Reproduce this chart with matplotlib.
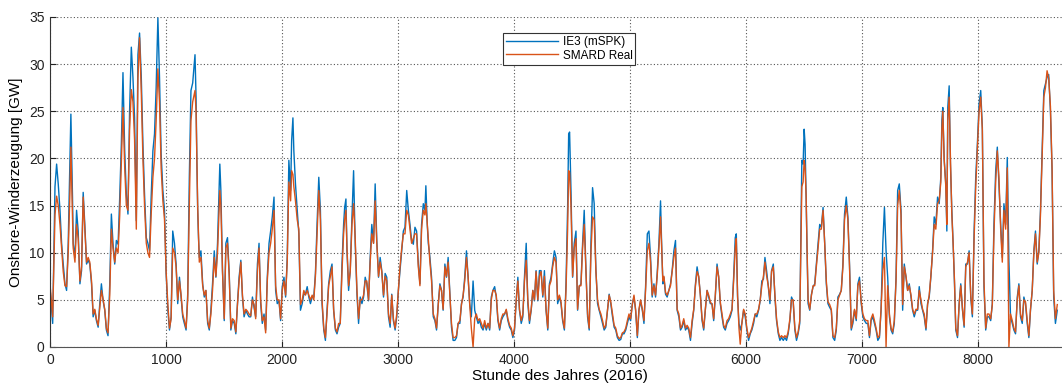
import matplotlib
matplotlib.use("Agg")
import matplotlib.pyplot as plt
from matplotlib import font_manager

stunde = [0, 23, 43, 57, 71, 86, 100, 114, 129, 143, 157, 172, 180, 194, 200, 215, 229, 243, 258, 272, 286, 300, 315, 329, 343, 358, 372, 386, 400, 415, 429, 443, 458, 472, 486, 500, 515, 529, 543, 558, 572, 587, 601, 615, 629, 644, 658, 672, 686, 701, 715, 729, 744, 758, 772, 787, 801, 815, 830, 844, 858, 872, 887, 901, 915, 930, 944, 958, 973, 987, 1001, 1016, 1030, 1044, 1058, 1073, 1087, 1101, 1116, 1130, 1144, 1158, 1173, 1187, 1201,
          1215, 1230, 1250, 1259, 1266, 1273, 1280, 1287, 1301, 1316, 1330, 1344, 1359, 1373, 1387, 1401, 1416, 1430, 1444, 1464, 1473, 1487, 1502, 1516, 1530, 1545, 1559, 1573, 1588, 1602, 1616, 1630, 1645, 1659, 1673, 1688, 1702, 1716, 1730, 1745, 1759, 1773, 1788, 1802, 1816, 1830, 1845, 1859, 1873, 1888, 1902, 1916, 1931, 1945, 1959, 1974, 1988, 2002, 2017, 2031, 2045, 2059, 2074, 2083, 2094, 2102, 2116, 2131, 2145, 2159, 2174, 2188, 2202, 2217, 2231, 2245, 2260, 2274, 2288, 2302, 2317, 2331, 2345, 2360, 2374, 2388,
          2402, 2417, 2431, 2445, 2460, 2474, 2488, 2502, 2517, 2531, 2540, 2551, 2560, 2574, 2588, 2603, 2617, 2631, 2646, 2660, 2674, 2689, 2703, 2717, 2731, 2746, 2760, 2774, 2789, 2803, 2817, 2832, 2846, 2860, 2875, 2889, 2903, 2918, 2932, 2946, 2960, 2975, 2989, 3003, 3017, 3032, 3046, 3060, 3075, 3089, 3103, 3117, 3132, 3146, 3160, 3175, 3189, 3203, 3218, 3232, 3240, 3252, 3261, 3275, 3289, 3304, 3318, 3332, 3347, 3361, 3375, 3389, 3404, 3418, 3432, 3447, 3461, 3475, 3490, 3504, 3518, 3533, 3547, 3561, 3575, 3590, 3604, 3618, 3632,
          3647, 3661, 3675, 3690, 3704, 3718, 3733, 3747, 3761, 3776, 3790, 3804, 3818, 3833, 3847, 3861, 3876, 3890, 3904, 3919, 3933, 3947, 3962, 3976, 3990, 4004, 4019, 4033, 4047, 4062, 4076, 4090, 4105, 4119, 4133, 4148, 4162, 4176, 4190, 4205, 4219, 4233, 4248, 4262, 4276, 4291, 4305, 4319, 4333, 4348, 4362, 4376, 4391, 4405, 4419, 4434, 4448, 4462, 4471, 4479, 4491, 4505, 4519, 4534, 4548, 4562, 4577, 4591, 4605, 4620, 4634, 4648, 4663, 4677, 4691, 4706, 4720, 4734, 4749, 4763, 4777, 4791, 4806, 4820, 4834, 4849, 4863, 4877,
          4891, 4906, 4920, 4934, 4948, 4963, 4977, 4991, 5005, 5020, 5034, 5048, 5063, 5077, 5091, 5106, 5120, 5134, 5149, 5163, 5177, 5191, 5206, 5220, 5234, 5249, 5263, 5271, 5283, 5292, 5306, 5320, 5335, 5349, 5363, 5378, 5392, 5406, 5421, 5435, 5449, 5463, 5478, 5492, 5506, 5521, 5535, 5549, 5564, 5578, 5592, 5606, 5621, 5635, 5649, 5664, 5678, 5692, 5707, 5721, 5735, 5750, 5764, 5778, 5793, 5807, 5821, 5836, 5850, 5864, 5879, 5893, 5907, 5916, 5927, 5939, 5950, 5964, 5979, 5993, 6007, 6022, 6036, 6050, 6065, 6079, 6093, 6108, 6122,
          6136, 6150, 6163, 6178, 6192, 6206, 6220, 6235, 6249, 6263, 6278, 6292, 6306, 6321, 6335, 6349, 6363, 6378, 6392, 6406, 6421, 6435, 6449, 6463, 6472, 6481, 6492, 6501, 6509, 6518, 6526, 6535, 6549, 6564, 6578, 6592, 6606, 6621, 6635, 6649, 6664, 6678, 6692, 6706, 6721, 6735, 6749, 6764, 6778, 6792, 6807, 6821, 6835, 6849, 6864, 6878, 6892, 6907, 6921, 6935, 6950, 6964, 6978, 6993, 7007, 7021, 7036, 7050, 7064, 7078, 7093, 7107, 7121, 7136, 7150, 7164, 7179, 7193, 7207, 7221, 7236, 7250, 7264, 7278, 7293, 7307, 7321, 7336, 7350, 7364,
          7379, 7393, 7407, 7422, 7436, 7450, 7465, 7479, 7493, 7508, 7522, 7536, 7551, 7565, 7579, 7593, 7608, 7622, 7636, 7651, 7665, 7679, 7688, 7696, 7708, 7722, 7731, 7739, 7751, 7762, 7774, 7785, 7797, 7808, 7823, 7837, 7851, 7866, 7880, 7894, 7909, 7923, 7937, 7951, 7966, 7980, 7994, 8009, 8023, 8037, 8051, 8066, 8080, 8094, 8109, 8123, 8137, 8152, 8166, 8180, 8195, 8209, 8223, 8238, 8252, 8266, 8280, 8295, 8309, 8323, 8338, 8352, 8366, 8381, 8395, 8409, 8424, 8438, 8452, 8467, 8481, 8495, 8510, 8524, 8538, 8552, 8567, 8581, 8595, 8609, 8624, 8638, 8652, 8667, 8683]

ie3_mspk = [6.3, 2.5, 17.0, 19.4, 17.3, 14.5, 11.0, 8.8, 6.7, 6.0, 11.0, 19.8, 24.7, 15.9, 11.0, 9.5, 14.5, 12.3, 6.7, 8.1, 16.4, 13.0, 8.8, 9.2, 8.8, 6.7, 3.2, 3.9, 2.8, 2.1, 4.6, 6.7, 4.9, 3.9, 1.8, 1.2, 6.7, 14.1, 11.0, 8.8, 11.3, 10.9, 15.9, 21.5, 29.1, 20.8, 16.2, 14.1, 25.0, 31.8, 28.6, 24.3, 13.4, 31.0, 33.3, 28.6, 21.5, 16.2, 11.6, 11.0, 10.2, 15.9, 20.8, 22.6, 27.5, 34.9, 28.6, 20.5, 16.6, 14.5, 7.8, 3.9, 1.8, 3.2, 12.3, 11.0, 8.8, 4.6, 7.4, 5.3, 3.2, 2.5, 1.8, 5.6, 18.0,
            27.2, 28.0, 31.0, 26.5, 19.8, 14.5, 11.6, 9.5, 10.2, 6.7, 5.3, 6.0, 2.5, 1.8, 3.9, 6.7, 10.2, 7.4, 11.0, 19.4, 16.6, 8.1, 2.8, 11.0, 11.6, 7.8, 1.8, 2.8, 2.5, 1.4, 4.6, 7.4, 9.2, 5.3, 3.2, 3.9, 3.5, 3.2, 3.2, 5.3, 4.2, 3.2, 8.8, 11.0, 4.6, 2.5, 3.5, 1.8, 7.4, 11.0, 12.3, 13.8, 15.9, 6.0, 4.6, 4.9, 2.8, 6.4, 7.4, 5.3, 9.5, 19.8, 16.6, 21.9, 24.3, 20.8, 17.3, 14.5, 12.0, 3.9, 4.6, 5.6, 5.6, 6.4, 5.3, 4.6, 5.3, 5.3, 7.8, 13.0, 18.0, 14.5, 4.6, 1.8, 0.7, 3.9,
            6.7, 8.1, 8.8, 3.9, 1.8, 1.4, 2.1, 2.5, 8.8, 13.0, 14.8, 15.7, 10.2, 6.0, 8.1, 13.8, 18.7, 11.0, 5.6, 2.5, 5.3, 4.6, 5.3, 7.4, 6.7, 4.9, 9.5, 13.0, 11.0, 17.3, 11.3, 7.4, 9.5, 8.1, 5.3, 7.8, 7.4, 3.2, 2.1, 5.6, 2.8, 1.8, 3.2, 6.0, 8.1, 10.2, 12.3, 12.7, 16.6, 14.5, 13.0, 11.3, 10.9, 12.7, 12.3, 8.8, 6.7, 13.0, 15.2, 14.5, 17.1, 13.0, 11.0, 9.5, 7.4, 3.2, 2.8, 1.8, 4.6, 6.7, 6.0, 3.9, 8.8, 7.4, 9.5, 5.6, 2.1, 0.7, 0.7, 1.0, 2.5, 2.5, 4.6, 5.3, 7.4, 10.2, 7.4, 4.6, 3.2,
            7.0, 3.9, 3.2, 2.5, 2.8, 2.1, 1.8, 2.5, 1.8, 2.5, 1.8, 5.3, 6.0, 6.4, 5.3, 2.8, 1.8, 2.8, 3.2, 3.5, 3.9, 2.8, 2.1, 1.8, 1.0, 1.8, 4.9, 7.4, 3.9, 2.5, 3.2, 7.4, 11.0, 4.6, 2.5, 3.9, 6.0, 4.9, 8.1, 4.9, 8.1, 8.1, 5.3, 8.1, 3.9, 1.8, 6.7, 7.4, 8.8, 10.2, 9.5, 4.6, 5.3, 4.6, 2.8, 1.8, 6.7, 14.8, 22.6, 22.8, 16.6, 7.4, 11.0, 12.3, 3.9, 6.4, 6.7, 11.0, 14.5, 8.1, 3.2, 1.8, 11.0, 16.9, 15.2, 8.1, 4.6, 3.9, 3.2, 2.5, 1.8, 2.1, 3.9, 5.6, 4.6, 3.2, 2.1, 1.8,
            1.0, 0.7, 0.8, 1.4, 1.4, 1.8, 2.5, 3.2, 2.8, 4.6, 5.3, 3.9, 1.0, 3.9, 4.9, 3.9, 2.5, 6.4, 12.0, 12.3, 9.5, 5.3, 6.7, 5.3, 7.8, 11.0, 15.5, 11.6, 6.7, 7.4, 5.6, 5.3, 6.0, 6.7, 8.1, 10.2, 11.3, 3.9, 3.2, 1.8, 2.1, 2.8, 1.8, 2.1, 1.8, 0.7, 2.5, 3.9, 6.7, 8.5, 7.4, 5.6, 2.8, 1.8, 3.9, 6.0, 5.3, 4.6, 4.6, 2.8, 5.3, 8.8, 7.4, 4.6, 3.2, 2.1, 1.8, 2.5, 2.8, 3.2, 3.9, 7.4, 11.6, 12.0, 5.3, 2.5, 1.8, 2.5, 3.9, 3.2, 1.8, 0.7, 1.4, 1.8, 2.5, 3.5, 3.2, 3.9, 4.9,
            7.0, 7.2, 9.5, 8.0, 6.4, 4.6, 8.1, 8.8, 5.3, 2.8, 1.4, 0.7, 1.0, 0.7, 1.0, 0.7, 1.4, 2.8, 5.3, 4.9, 1.8, 0.7, 1.4, 2.5, 11.0, 19.8, 19.4, 23.1, 21.5, 15.9, 10.2, 4.6, 3.9, 5.6, 6.4, 6.7, 8.8, 11.0, 13.0, 12.7, 14.8, 11.0, 6.7, 4.6, 4.2, 3.9, 1.0, 0.7, 1.8, 5.3, 5.6, 6.0, 8.8, 14.1, 15.9, 13.8, 8.8, 1.8, 2.5, 3.9, 2.8, 6.7, 7.4, 4.6, 3.2, 2.8, 2.5, 2.5, 1.0, 2.8, 3.2, 2.5, 1.8, 0.7, 1.0, 3.9, 11.0, 14.8, 10.2, 7.4, 3.2, 1.8, 1.4, 2.5, 7.4, 16.6, 17.3, 14.5, 3.9, 8.8,
            7.4, 6.0, 6.7, 5.3, 3.9, 3.2, 3.9, 3.9, 6.4, 4.6, 3.9, 3.2, 1.8, 4.6, 5.3, 7.4, 10.2, 13.8, 13.0, 15.9, 15.2, 18.0, 24.0, 25.4, 19.8, 17.3, 12.3, 25.4, 27.7, 19.4, 14.5, 11.0, 6.7, 1.8, 1.0, 4.6, 6.7, 3.9, 2.1, 8.8, 8.8, 10.2, 5.3, 3.2, 12.3, 18.0, 21.5, 25.8, 27.2, 23.3, 6.4, 1.8, 3.2, 3.2, 2.8, 4.6, 13.0, 18.7, 21.2, 17.3, 13.0, 9.5, 15.2, 13.0, 20.1, 9.2, 3.2, 2.5, 1.8, 1.4, 5.3, 6.7, 3.2, 2.5, 5.3, 4.6, 2.5, 1.0, 3.9, 6.0, 10.2, 12.3, 8.8, 10.2, 14.5, 20.8, 27.2, 27.9, 28.6, 28.9, 25.0, 18.7, 5.3, 2.5, 3.9]

smard_real = [6.7, 3.2, 14.0, 16.0, 15.0, 13.0, 10.5, 8.0, 6.5, 6.4, 10.0, 16.5, 21.2, 14.0, 10.5, 9.0, 13.0, 11.5, 7.0, 8.5, 15.9, 12.5, 9.0, 9.5, 9.0, 7.0, 3.5, 4.0, 3.0, 2.3, 4.2, 6.0, 5.0, 4.0, 2.0, 1.5, 5.5, 12.5, 10.5, 9.0, 10.5, 10.0, 14.0, 19.5, 25.4, 19.0, 15.0, 14.5, 23.0, 27.3, 26.0, 22.0, 12.5, 28.5, 32.8, 27.0, 20.0, 15.0, 11.0, 10.0, 9.5, 14.0, 18.0, 20.0, 24.0, 29.5, 26.0, 19.0, 15.5, 13.5, 8.0, 4.5, 2.0, 3.0, 10.5, 10.0, 8.5, 5.0, 7.0, 5.5, 3.5, 2.8, 2.0, 5.0, 15.0,
              24.0, 26.0, 27.2, 25.0, 20.0, 15.0, 12.0, 9.0, 9.5, 6.5, 5.5, 6.0, 2.8, 2.0, 3.5, 6.0, 9.5, 7.5, 10.0, 16.6, 15.0, 8.0, 3.0, 10.5, 11.0, 7.5, 2.0, 3.0, 2.8, 1.6, 4.5, 7.0, 9.0, 5.5, 3.5, 4.0, 3.8, 3.5, 3.3, 5.0, 4.5, 3.0, 8.0, 10.5, 5.0, 2.8, 3.2, 1.5, 7.0, 10.0, 11.0, 12.5, 14.5, 6.5, 5.0, 5.0, 3.0, 6.0, 7.0, 5.5, 9.0, 17.5, 15.5, 18.7, 18.3, 17.0, 15.5, 13.5, 12.5, 4.5, 5.0, 6.0, 5.5, 6.0, 5.5, 5.0, 5.5, 5.0, 7.5, 12.0, 16.6, 13.5, 5.0, 2.0, 1.0, 3.5,
              6.5, 7.5, 8.5, 4.0, 2.0, 1.6, 2.5, 2.5, 8.0, 12.0, 13.5, 14.5, 10.5, 6.5, 8.0, 13.0, 15.2, 11.5, 6.0, 3.0, 5.0, 5.0, 5.5, 7.0, 7.0, 5.0, 9.0, 12.0, 11.0, 15.5, 11.0, 7.5, 9.0, 8.0, 5.5, 7.5, 7.0, 3.5, 2.5, 5.5, 3.0, 2.0, 3.5, 6.0, 8.5, 10.5, 12.0, 12.0, 14.5, 14.0, 12.5, 11.0, 11.5, 12.0, 12.0, 8.5, 6.5, 12.5, 14.5, 14.0, 15.2, 13.0, 11.5, 9.0, 7.0, 3.5, 3.0, 2.0, 4.5, 6.5, 6.0, 4.0, 8.5, 7.5, 9.0, 5.5, 2.5, 1.0, 1.0, 1.2, 2.5, 2.8, 4.5, 5.5, 7.0, 9.5, 7.5, 4.5, 2.0,
              0.0, 3.0, 3.5, 2.8, 3.0, 2.5, 2.0, 2.8, 2.0, 2.5, 2.0, 5.0, 6.0, 6.0, 5.5, 3.0, 2.0, 3.0, 3.5, 3.5, 4.0, 3.0, 2.3, 2.0, 1.2, 2.0, 5.0, 7.0, 4.0, 2.8, 3.5, 7.0, 9.2, 5.0, 2.8, 4.0, 6.0, 5.0, 8.0, 5.0, 7.5, 8.0, 5.5, 7.5, 4.0, 2.0, 6.5, 7.0, 8.5, 9.5, 9.0, 5.0, 5.5, 4.8, 3.0, 2.0, 6.0, 12.5, 18.7, 18.5, 15.0, 7.5, 10.5, 11.5, 4.0, 6.5, 6.5, 10.5, 13.0, 8.0, 3.5, 2.0, 10.0, 13.8, 13.5, 8.0, 5.0, 4.0, 3.5, 2.8, 2.0, 2.3, 4.0, 5.5, 4.8, 3.5, 2.3, 2.0,
              1.2, 0.9, 1.0, 1.5, 1.6, 2.0, 2.8, 3.5, 3.0, 4.5, 5.5, 4.0, 1.2, 4.0, 5.0, 4.0, 2.8, 6.0, 10.2, 11.0, 9.0, 5.5, 6.5, 5.5, 7.5, 10.5, 13.8, 11.0, 7.0, 7.5, 5.8, 5.5, 6.0, 6.5, 8.0, 9.5, 10.5, 4.0, 3.5, 2.0, 2.3, 3.0, 2.0, 2.3, 2.0, 1.0, 2.8, 4.0, 6.5, 8.0, 7.5, 5.5, 3.0, 2.0, 4.0, 6.0, 5.5, 4.8, 4.5, 3.0, 5.5, 8.5, 7.5, 4.8, 3.5, 2.3, 2.0, 2.8, 3.0, 3.5, 4.0, 7.0, 10.5, 11.5, 5.5, 2.0, 0.3, 2.5, 4.0, 3.5, 2.0, 1.0, 1.5, 2.0, 2.8, 3.5, 3.5, 4.0, 5.0,
              6.5, 7.5, 9.0, 7.5, 6.5, 5.0, 8.0, 8.5, 5.5, 3.0, 1.6, 1.0, 1.2, 1.0, 1.2, 1.0, 1.6, 3.0, 5.0, 5.0, 2.0, 1.0, 1.6, 2.8, 10.0, 17.0, 17.5, 19.8, 19.0, 16.0, 10.5, 5.0, 4.0, 5.5, 6.5, 6.5, 8.5, 10.5, 12.5, 12.5, 14.5, 11.0, 7.0, 4.8, 4.5, 4.0, 1.2, 1.0, 2.0, 5.0, 5.5, 6.0, 8.5, 13.5, 15.0, 13.5, 8.5, 2.0, 2.8, 4.0, 3.0, 6.5, 7.0, 4.8, 3.5, 3.0, 2.8, 2.8, 1.2, 3.0, 3.5, 2.8, 2.0, 1.0, 1.2, 4.0, 8.1, 9.5, 0.0, 6.5, 3.5, 2.0, 1.6, 2.8, 7.0, 15.0, 16.6, 14.0, 4.5, 8.5,
              7.5, 6.0, 6.5, 5.5, 4.0, 3.5, 4.0, 4.0, 6.0, 5.0, 4.0, 3.5, 2.0, 4.5, 5.5, 7.5, 10.0, 13.0, 12.5, 15.2, 15.5, 17.5, 23.0, 25.0, 20.0, 17.0, 13.0, 24.0, 26.5, 20.0, 14.0, 11.0, 7.0, 2.0, 1.2, 4.5, 6.5, 4.0, 2.3, 8.5, 9.0, 10.0, 5.5, 3.5, 11.5, 17.0, 21.0, 25.0, 26.5, 23.0, 7.0, 2.0, 3.5, 3.5, 3.0, 4.5, 12.0, 17.5, 20.8, 18.0, 12.5, 9.0, 14.5, 12.5, 19.0, 0.0, 3.5, 2.8, 2.0, 1.6, 5.0, 6.5, 3.5, 2.8, 5.0, 4.8, 2.8, 1.2, 4.0, 6.0, 10.0, 12.0, 9.0, 10.0, 14.0, 20.0, 26.5, 27.5, 29.3, 28.5, 25.5, 19.0, 6.0, 3.0, 4.5]

x_ticks = [0, 1000, 2000, 3000, 4000, 5000, 6000, 7000, 8000]
y_ticks = [0, 5, 10, 15, 20, 25, 30, 35]
series_names = ["IE3 (mSPK)", "SMARD Real"]
x_label = "Stunde des Jahres (2016)"
y_label = "Onshore-Winderzeugung [GW]"

avail = {f.name for f in font_manager.fontManager.ttflist}
fam = "Liberation Sans Narrow" if "Liberation Sans Narrow" in avail else "Liberation Sans"
plt.rcParams["font.family"] = [fam, "DejaVu Sans"]

W, H = 1062, 387
fig = plt.figure(figsize=(W / 100, H / 100), dpi=100)
ax = fig.add_axes([50 / W, 40 / H, 1019 / W, 330 / H])

ax.plot(stunde, ie3_mspk, color="#0072BD", lw=1.0, label=series_names[0])
ax.plot(stunde, smard_real, color="#D95319", lw=1.0, label=series_names[1])

ax.set_xlim(0, 8784)
ax.set_ylim(0, 35)
ax.set_xticks(x_ticks)
ax.set_yticks(y_ticks)
ax.grid(True, color="#555555", linestyle=(0, (1, 2)), linewidth=0.8)
ax.set_axisbelow(True)
for s in ["top", "right"]:
    ax.spines[s].set_visible(False)
ax.spines["left"].set_color("#333333")
ax.spines["bottom"].set_color("#555555")
ax.tick_params(direction="in", length=4, labelsize=10, colors="#222222", pad=4)
ax.set_xlabel(x_label, fontsize=11, labelpad=2)
ax.set_ylabel(y_label, fontsize=11, labelpad=4)

leg = ax.legend(loc="upper left", bbox_to_anchor=(447 / 1019, 0.968), fontsize=8.5,
                frameon=True, fancybox=False, framealpha=1, edgecolor="#333333",
                handlelength=4.4, borderpad=0.25, labelspacing=0.1, handletextpad=0.4)
leg.get_frame().set_linewidth(0.8)

fig.savefig("out.png", dpi=100)
